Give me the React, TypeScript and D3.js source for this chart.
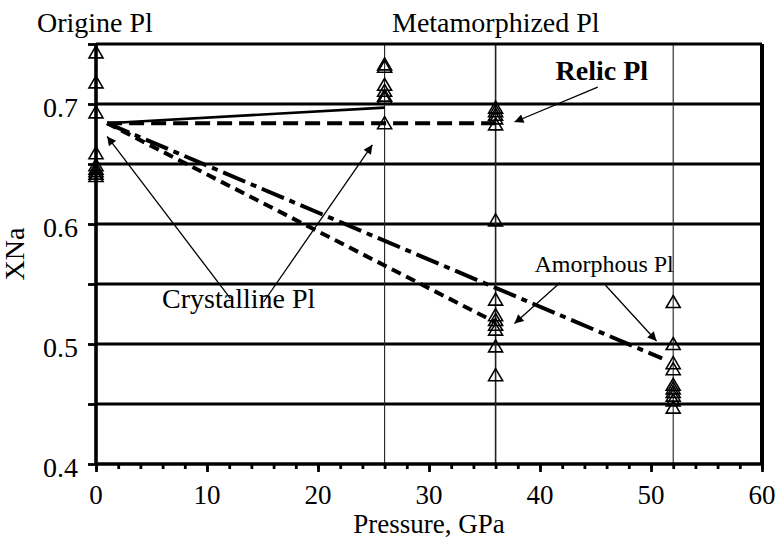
import React, { useEffect, useRef } from "react";
import * as d3 from "d3";

const W = 781;
const H = 538;
const margin = { top: 44, right: 19, bottom: 74, left: 96 };

// axes
const xTickLabels = [0, 10, 20, 30, 40, 50, 60];
const yTickLabels = [0.4, 0.5, 0.6, 0.7];
const yGridLevels = [0.45, 0.5, 0.55, 0.6, 0.65, 0.7];
const pressureLevels = [26, 36, 52];

// measured XNa per pressure (GPa)
const xnaAt0 = [0.743, 0.718, 0.693, 0.659, 0.649, 0.646, 0.644, 0.642, 0.64];
const xnaAt26 = [0.733, 0.731, 0.716, 0.711, 0.707, 0.705, 0.684];
const xnaAt36 = [0.697, 0.694, 0.691, 0.688, 0.683, 0.603, 0.537, 0.524, 0.52, 0.516, 0.512, 0.498, 0.474];
const xnaAt52 = [0.535, 0.5, 0.484, 0.479, 0.466, 0.463, 0.46, 0.457, 0.453, 0.447];

// trend lines [pressure, XNa]
const crystallineTrend = [[1, 0.684], [26, 0.697]];
const relicTrend = [[1, 0.684], [36, 0.684]];
const amorphous36Trend = [[1, 0.684], [36, 0.518]];
const amorphous52Trend = [[1, 0.684], [51, 0.488]];

// annotation arrows [from, to] in data units
const crystallineArrows = [
  [[12.1, 0.538], [1.0, 0.673]],
  [[15.1, 0.535], [24.9, 0.666]],
];
const relicArrows = [[[45.2, 0.714], [37.7, 0.685]]];
const amorphousArrows = [
  [[41.8, 0.551], [37.7, 0.517]],
  [[45.9, 0.549], [50.5, 0.5025]],
];

const FONT = "'Liberation Serif', 'Times New Roman', serif";

export default function App() {
  const ref = useRef<SVGSVGElement>(null);

  useEffect(() => {
    const svg = d3.select(ref.current);
    svg.selectAll("*").remove();

    const width = W - margin.left - margin.right;
    const height = H - margin.top - margin.bottom;

    const x = d3.scaleLinear().domain([0, 60]).range([0, width]);
    const y = d3.scaleLinear().domain([0.4, 0.75]).range([height, 0]);

    svg.append("defs")
      .append("marker")
      .attr("id", "arrow")
      .attr("viewBox", "0 0 10 10")
      .attr("refX", 10)
      .attr("refY", 5)
      .attr("markerWidth", 13)
      .attr("markerHeight", 9)
      .attr("markerUnits", "userSpaceOnUse")
      .attr("orient", "auto")
      .append("path")
      .attr("d", "M0,0L10,5L0,10z")
      .attr("fill", "#000");

    const g = svg.append("g")
      .attr("transform", `translate(${margin.left},${margin.top})`);

    // HORIZONTAL GRID
    g.selectAll(".grid")
      .data(yGridLevels)
      .enter()
      .append("line")
      .attr("x1", 0)
      .attr("x2", width)
      .attr("y1", d => y(d))
      .attr("y2", d => y(d))
      .attr("stroke", "#000")
      .attr("stroke-width", 2.8);

    // PRESSURE LINES
    g.selectAll(".plev")
      .data(pressureLevels)
      .enter()
      .append("line")
      .attr("x1", d => x(d))
      .attr("x2", d => x(d))
      .attr("y1", 0)
      .attr("y2", height)
      .attr("stroke", "#222")
      .attr("stroke-width", d => (d === 36 ? 1.6 : 1.1));

    // AXES
    const yAxis = d3.axisLeft(y)
      .tickValues([0.4, 0.45, 0.5, 0.55, 0.6, 0.65, 0.7, 0.75])
      .tickSize(8)
      .tickFormat(() => "");
    g.append("g").call(yAxis)
      .call(a => a.select(".domain").remove())
      .selectAll("line").attr("stroke-width", 2.8);

    g.selectAll(".ylab")
      .data(yTickLabels)
      .enter()
      .append("text")
      .attr("x", -18)
      .attr("y", d => y(d) + 13)
      .attr("text-anchor", "end")
      .attr("font-family", FONT)
      .attr("font-size", 28)
      .text(d => d3.format(".1f")(d));

    const xMinor = d3.axisBottom(x)
      .tickValues(d3.range(0, 61, 2))
      .tickSize(5)
      .tickFormat(() => "");
    g.append("g").attr("transform", `translate(0,${height})`).call(xMinor)
      .call(a => a.select(".domain").remove())
      .selectAll("line").attr("stroke-width", 2.8);

    const xMajor = d3.axisBottom(x)
      .tickValues(xTickLabels)
      .tickSize(8)
      .tickFormat(() => "");
    g.append("g").attr("transform", `translate(0,${height})`).call(xMajor)
      .call(a => a.select(".domain").remove())
      .selectAll("line").attr("stroke-width", 2.8);

    g.selectAll(".xlab")
      .data(xTickLabels)
      .enter()
      .append("text")
      .attr("x", d => x(d))
      .attr("y", height + 40)
      .attr("text-anchor", "middle")
      .attr("font-family", FONT)
      .attr("font-size", 27)
      .text(d => d);

    // FRAME
    g.append("line").attr("x1", 0).attr("x2", width).attr("y1", 0).attr("y2", 0)
      .attr("stroke", "#000").attr("stroke-width", 3);
    g.append("line").attr("x1", width).attr("x2", width).attr("y1", 0).attr("y2", height)
      .attr("stroke", "#000").attr("stroke-width", 4);
    g.append("line").attr("x1", 0).attr("x2", width).attr("y1", height).attr("y2", height)
      .attr("stroke", "#000").attr("stroke-width", 3.6);
    g.append("line").attr("x1", 0).attr("x2", 0).attr("y1", 0).attr("y2", height + 1.8)
      .attr("stroke", "#000").attr("stroke-width", 3.6);

    // TREND LINES
    const line = d3.line<number[]>().x(d => x(d[0])).y(d => y(d[1]));
    const trends = [
      { pts: crystallineTrend, dash: null, w: 2.6 },
      { pts: relicTrend, dash: "15,7", w: 4 },
      { pts: amorphous36Trend, dash: "10,6", w: 4 },
      { pts: amorphous52Trend, dash: "24,6,6,6", w: 4 },
    ];
    trends.forEach(t => {
      g.append("path")
        .attr("d", line(t.pts))
        .attr("fill", "none")
        .attr("stroke", "#000")
        .attr("stroke-width", t.w)
        .attr("stroke-dasharray", t.dash);
    });

    // POINTS
    const groups = [
      { p: 0, vals: xnaAt0 },
      { p: 26, vals: xnaAt26 },
      { p: 36, vals: xnaAt36 },
      { p: 52, vals: xnaAt52 },
    ];
    const tri = "M0,-6.5L7,5.5L-7,5.5Z";
    groups.forEach(grp => {
      g.selectAll(null)
        .data(grp.vals)
        .enter()
        .append("path")
        .attr("d", tri)
        .attr("transform", d => `translate(${x(grp.p)},${y(d)})`)
        .attr("fill", "none")
        .attr("stroke", "#000")
        .attr("stroke-width", 1.6);
    });

    // ANNOTATION ARROWS
    [...crystallineArrows, ...relicArrows, ...amorphousArrows].forEach(a => {
      g.append("line")
        .attr("x1", x(a[0][0]))
        .attr("y1", y(a[0][1]))
        .attr("x2", x(a[1][0]))
        .attr("y2", y(a[1][1]))
        .attr("stroke", "#000")
        .attr("stroke-width", 1.3)
        .attr("marker-end", "url(#arrow)");
    });

    const label = (txt: string, px: number, py: number, size: number, bold = false) =>
      g.append("text")
        .attr("x", px)
        .attr("y", py)
        .attr("font-family", FONT)
        .attr("font-size", size)
        .attr("font-weight", bold ? "bold" : "normal")
        .text(txt);

    label("Crystalline Pl", x(5.95), y(0.53), 28);
    label("Amorphous Pl", x(39.5), y(0.56), 24);
    label("Relic Pl", x(41.4), y(0.72), 28, true);

    // TITLES
    svg.append("text").attr("x", 37).attr("y", 32)
      .attr("font-family", FONT).attr("font-size", 28).text("Origine Pl");
    svg.append("text").attr("x", 392).attr("y", 32)
      .attr("font-family", FONT).attr("font-size", 28).text("Metamorphized Pl");

    svg.append("text")
      .attr("transform", `translate(24,${margin.top + height / 2}) rotate(-90)`)
      .attr("text-anchor", "middle")
      .attr("font-family", FONT)
      .attr("font-size", 28)
      .text("XNa");

    svg.append("text")
      .attr("x", margin.left + width / 2)
      .attr("y", 533)
      .attr("text-anchor", "middle")
      .attr("font-family", FONT)
      .attr("font-size", 27)
      .text("Pressure, GPa");
  }, []);

  return (
    <svg
      ref={ref}
      width={W}
      height={H}
      style={{ position: "absolute", left: 0, top: 0, background: "#fff" }}
    />
  );
}
